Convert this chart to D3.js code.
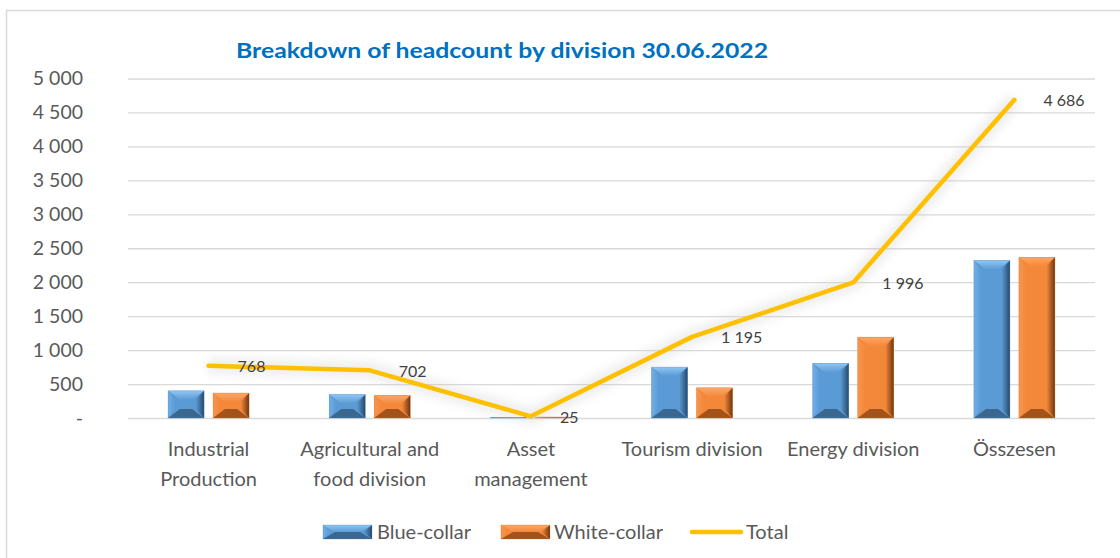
<!DOCTYPE html>
<html>
<head>
<meta charset="utf-8">
<script src="https://cdn.jsdelivr.net/npm/d3@7"></script>
<style>
  body { margin: 0; background: #fff; }
  svg { display: block; }
  text { font-family: Lato, "Open Sans", sans-serif; }
</style>
</head>
<body>
<svg id="chart" width="1120" height="558"></svg>
<script>
// Headcount by division, 30.06.2022
const categories = ["Industrial\nProduction", "Agricultural and\nfood division", "Asset\nmanagement",
                    "Tourism division", "Energy division", "Összesen"];
const blueCollar  = [400, 345, 10, 750, 805, 2320];
const whiteCollar = [368, 335, 15, 445, 1191, 2366];
const total       = [768, 702, 25, 1195, 1996, 4686];
const yTicks      = [0, 500, 1000, 1500, 2000, 2500, 3000, 3500, 4000, 4500, 5000];
const seriesNames = ["Blue-collar", "White-collar", "Total"];
const titleText   = "Breakdown of headcount by division 30.06.2022";

const huLocale = d3.formatLocale({ decimal: ",", thousands: " ", grouping: [3], currency: ["", ""] });
const fmt = v => v === 0 ? "-" : huLocale.format(",")(v);

const svg = d3.select("#chart");
const W = 1120, H = 558;
const plot = { left: 128, right: 1095, top: 78.5, bottom: 418 };

// Chart frame
svg.append("rect").attr("x", 6.5).attr("y", 10.5).attr("width", W + 20).attr("height", H + 20)
  .attr("fill", "#fff").attr("stroke", "#d9d9d9").attr("stroke-width", 1.5);

const x = d3.scaleBand().domain(categories).range([plot.left, plot.right]).paddingInner(0).paddingOuter(0);
const y = d3.scaleLinear().domain([0, 5000]).range([plot.bottom, plot.top]);
const xs = d3.scaleBand().domain([0, 1]).range([-40.5, 40.5]).paddingInner(0.2).paddingOuter(0);

// Gridlines and y tick labels
const yAxis = d3.axisLeft(y).tickValues(yTicks).tickFormat(fmt)
  .tickSize(-(plot.right - plot.left)).tickPadding(45);
const gy = svg.append("g").attr("transform", `translate(${plot.left},0)`).call(yAxis);
gy.select(".domain").remove();
gy.selectAll(".tick line").attr("stroke", "#d9d9d9").attr("stroke-width", 1.3);
gy.selectAll(".tick text").attr("fill", "#595959").style("font-size", "19.5px");

// Category labels (wrapped onto lines)
const gx = svg.append("g");
categories.forEach(c => {
  const lines = c.split("\n");
  const t = gx.append("text").attr("text-anchor", "middle").attr("fill", "#595959")
    .style("font-size", "20px");
  lines.forEach((ln, i) => {
    t.append("tspan").attr("x", x(c) + x.bandwidth() / 2).attr("y", 456 + i * 30).text(ln);
  });
});

// Bevelled bar colours
const palettes = [
  { main: "#5B9BD5", top: "#8FC6F4", left: "#70AEE6", right: "#24496B", bottom: "#3A6790", edge: "#4F87BA" },
  { main: "#F4883A", top: "#FBA868", left: "#F69650", right: "#6E3610", bottom: "#A3521A", edge: "#D8722A" }
];

const defs = svg.append("defs");
palettes.forEach((p, i) => {
  const gr = defs.append("linearGradient").attr("id", "rgrad" + i).attr("x1", 0).attr("x2", 1).attr("y1", 0).attr("y2", 0);
  gr.append("stop").attr("offset", 0).attr("stop-color", p.main);
  gr.append("stop").attr("offset", 1).attr("stop-color", p.right);
  const gl = defs.append("linearGradient").attr("id", "lgrad" + i).attr("x1", 0).attr("x2", 1).attr("y1", 0).attr("y2", 0);
  gl.append("stop").attr("offset", 0).attr("stop-color", p.left);
  gl.append("stop").attr("offset", 1).attr("stop-color", p.main);
  const gt = defs.append("linearGradient").attr("id", "tgrad" + i).attr("x1", 0).attr("x2", 0).attr("y1", 0).attr("y2", 1);
  gt.append("stop").attr("offset", 0).attr("stop-color", p.top);
  gt.append("stop").attr("offset", 1).attr("stop-color", p.main);
});
const glow = defs.append("filter").attr("id", "haze").attr("x", "-10%").attr("y", "-10%").attr("width", "120%").attr("height", "120%");
glow.append("feGaussianBlur").attr("stdDeviation", 5);

function drawBar(g, x0, w, yTop, yBot, p, i) {
  const h = yBot - yTop;
  if (h <= 0) return;
  const bx = Math.min(12, w / 2), by = Math.min(9, h / 2);
  const x1 = x0 + w;
  g.append("rect").attr("x", x0).attr("y", yTop).attr("width", w).attr("height", h).attr("fill", p.main);
  const poly = (pts, fill) => g.append("polygon").attr("points", pts.map(d => d.join(",")).join(" ")).attr("fill", fill);
  poly([[x0, yTop], [x0 + bx * 0.6, yTop + by], [x0 + bx * 0.6, yBot - by], [x0, yBot]], `url(#lgrad${i})`);
  poly([[x1, yTop], [x1 - bx * 0.7, yTop + by], [x1 - bx * 0.7, yBot - by], [x1, yBot]], `url(#rgrad${i})`);
  poly([[x0, yTop], [x1, yTop], [x1 - bx, yTop + by], [x0 + bx, yTop + by]], `url(#tgrad${i})`);
  poly([[x0, yBot], [x1, yBot], [x1 - bx, yBot - by], [x0 + bx, yBot - by]], p.bottom);
  g.append("rect").attr("x", x0).attr("y", yTop).attr("width", w).attr("height", h)
    .attr("fill", "none").attr("stroke", p.edge).attr("stroke-opacity", 0.5).attr("stroke-width", 0.6);
}

const bars = svg.append("g");
[blueCollar, whiteCollar].forEach((vals, si) => {
  vals.forEach((v, ci) => {
    const cx = x(categories[ci]) + x.bandwidth() / 2;
    drawBar(bars, cx + xs(si), xs.bandwidth(), y(v), y(0), palettes[si], si);
  });
});

// Total line
const lineGen = d3.line().x((d, i) => x(categories[i]) + x.bandwidth() / 2).y(d => y(d));
svg.append("path").datum(total).attr("d", lineGen).attr("fill", "none")
  .attr("stroke", "#c8c8c8").attr("stroke-opacity", 0.3).attr("stroke-width", 16)
  .attr("filter", "url(#haze)");
svg.append("path").datum(total).attr("d", lineGen).attr("fill", "none")
  .attr("stroke", "#FFC000").attr("stroke-width", 4.5)
  .attr("stroke-linejoin", "round").attr("stroke-linecap", "round");

// Total data labels
svg.append("g").selectAll("text").data(total).join("text")
  .attr("x", (d, i) => x(categories[i]) + x.bandwidth() / 2 + 29)
  .attr("y", d => y(d) + 1).attr("dy", "0.35em")
  .attr("fill", "#404040").style("font-size", "16px")
  .text(d => fmt(d));

// Title
svg.append("text").attr("x", 236).attr("y", 58).attr("fill", "#0070C0")
  .style("font-size", "21px").style("font-weight", "bold").text(titleText)
  .attr("textLength", 532).attr("lengthAdjust", "spacingAndGlyphs");

// Legend
const lg = svg.append("g");
const legendItems = [
  { name: seriesNames[0], type: "bar", p: palettes[0], i: 0, sx: 323, tx: 377 },
  { name: seriesNames[1], type: "bar", p: palettes[1], i: 1, sx: 501, tx: 554 },
  { name: seriesNames[2], type: "line", sx: 690, tx: 746 }
];
legendItems.forEach(it => {
  if (it.type === "bar") {
    drawBar(lg, it.sx, 49, 525, 539, it.p, it.i);
  } else {
    lg.append("line").attr("x1", it.sx + 2).attr("x2", it.sx + 51).attr("y1", 532).attr("y2", 532)
      .attr("stroke", "#FFC000").attr("stroke-width", 4.5).attr("stroke-linecap", "round");
  }
  lg.append("text").attr("x", it.tx).attr("y", 532).attr("dy", "0.35em").attr("fill", "#595959")
    .style("font-size", "20px").text(it.name);
});
</script>
</body>
</html>
